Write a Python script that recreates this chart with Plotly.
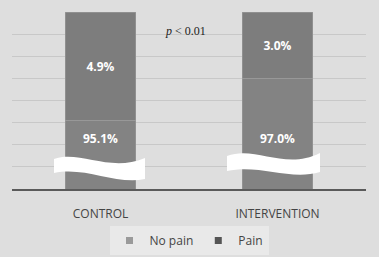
import plotly.graph_objects as go

categories = ["CONTROL", "INTERVENTION"]
no_pain = [95.1, 97.0]
pain = [4.9, 3.0]
no_pain_labels = ["95.1%", "97.0%"]
pain_labels = ["4.9%", "3.0%"]

W, H = 379, 257
ML, MR, MT, MB = 12, 13, 12, 68
PW, PH = W - ML - MR, H - MT - MB


def px(x):
    return (x - ML) / PW


def py(y):
    return (H - MB - y) / PH


def wave(pts):
    out = []
    for cmd, coords in pts:
        if cmd == "Z":
            out.append("Z")
            continue
        out.append(cmd + " " + " ".join(f"{px(x):.4f},{py(y):.4f}" for x, y in coords))
    return " ".join(out)


fig = go.Figure()
fig.add_trace(go.Bar(
    x=categories, y=no_pain, name="No pain", showlegend=False,
    marker=dict(color="#838383", line=dict(color="#9c9c9c", width=0.6)),
    textposition="none", width=0.4,
))
fig.add_trace(go.Bar(
    x=categories, y=pain, name="Pain", text=pain_labels, showlegend=False,
    texttemplate="<b>%{text}</b>",
    textposition="inside", insidetextanchor="middle",
    textfont=dict(color="white", size=12, family="Open Sans"),
    marker=dict(color="#7d7d7d", line=dict(color="#9c9c9c", width=0.6)),
    width=0.4,
))
fig.add_trace(go.Scatter(x=[None], y=[None], mode="markers", name="No pain",
                         marker=dict(symbol="square", size=7, color="#9a9a9a")))
fig.add_trace(go.Scatter(x=[None], y=[None], mode="markers", name="Pain",
                         marker=dict(symbol="square", size=7, color="#555555")))

for c, lab in zip(categories, no_pain_labels):
    fig.add_annotation(x=c, y=94.3, text=f"<b>{lab}</b>", showarrow=False,
                       font=dict(color="white", size=12, family="Open Sans"))

fig.add_annotation(xref="paper", yref="paper", x=px(185), y=py(22),
                   text="<i>p</i> < 0.01", showarrow=False,
                   font=dict(family="Liberation Serif", size=12, color="#222"))

shapes = []
shapes.append(dict(type="path", xref="paper", yref="paper", layer="above",
                   fillcolor="white", line=dict(width=0),
                   path=wave([("M", [(54, 159)]),
                              ("C", [(80, 150), (110, 173), (145, 158)]),
                              ("L", [(145, 179)]),
                              ("C", [(115, 185), (85, 166), (54, 173)]),
                              ("Z", [])])))
shapes.append(dict(type="path", xref="paper", yref="paper", layer="above",
                   fillcolor="white", line=dict(width=0),
                   path=wave([("M", [(227, 156)]),
                              ("C", [(255, 145), (285, 171), (320, 153)]),
                              ("L", [(320, 172)]),
                              ("C", [(290, 181), (260, 164), (227, 171)]),
                              ("Z", [])])))

fig.update_layout(
    width=W, height=H, barmode="stack",
    margin=dict(l=ML, r=MR, t=MT, b=MB, pad=0, autoexpand=False),
    paper_bgcolor="#dedede", plot_bgcolor="rgba(0,0,0,0)",
    shapes=shapes,
    showlegend=True,
    legend=dict(orientation="h", x=0.5, xanchor="center", y=py(226), yanchor="top",
                bgcolor="#e9e9e9", font=dict(size=12, color="#444", family="Open Sans"),
                traceorder="normal", itemwidth=30, tracegroupgap=0,
                itemclick=False),
    font=dict(family="Open Sans"),
)
fig.update_xaxes(showline=True, linecolor="#5a5a5a", linewidth=2,
                 tickfont=dict(size=12, color="#444", family="Open Sans"),
                 ticks="", ticklabelstandoff=13, showgrid=False, zeroline=False,
                 automargin=False)
fig.update_yaxes(range=[92, 100], dtick=1, showticklabels=False, automargin=False,
                 gridcolor="#c8c8c8", gridwidth=1, zeroline=False, showline=False)

fig.write_html("out.html")
